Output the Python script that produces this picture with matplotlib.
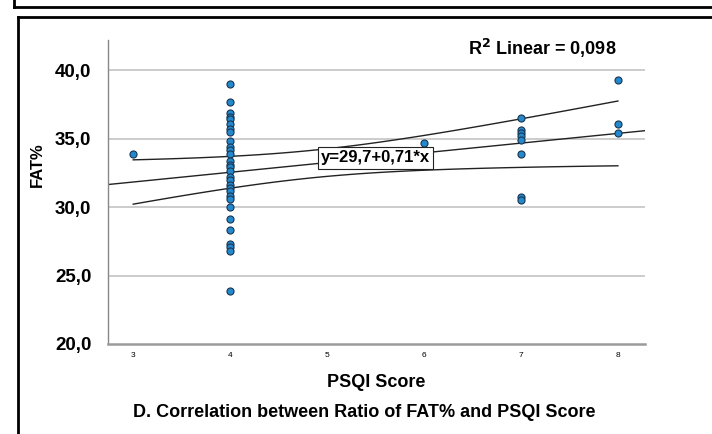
import numpy as np
import matplotlib
matplotlib.use("Agg")
import matplotlib.pyplot as plt
from matplotlib.lines import Line2D

plt.rcParams['font.family'] = ['Liberation Sans', 'DejaVu Sans']

# ---- data ----
psqi_3 = [33.9]
fat_4 = [39.0, 37.7, 36.9, 36.6, 36.4, 36.1, 35.7, 35.5, 34.8, 34.4, 34.2, 33.9,
         33.4, 33.1, 32.9, 32.6, 32.2, 32.0, 31.6, 31.4, 31.2, 30.8, 30.6, 30.0,
         29.1, 28.3, 27.3, 27.1, 26.8, 23.9]
fat_6 = [34.7]
fat_7 = [36.5, 35.6, 35.4, 35.2, 34.9, 33.9, 30.75, 30.5]
fat_8 = [39.3, 36.1, 35.4]

x_vals = np.array([3] * len(psqi_3) + [4] * len(fat_4) + [6] * len(fat_6)
                  + [7] * len(fat_7) + [8] * len(fat_8), dtype=float)
y_vals = np.array(psqi_3 + fat_4 + fat_6 + fat_7 + fat_8, dtype=float)

intercept = 29.7
slope = 0.71
r2_text = "0,098"
eq_text = "y=29,7+0,71*x"

x_ticks = [3, 4, 5, 6, 7, 8]
y_ticks = [20, 25, 30, 35, 40]
y_ticklabels = ["20,0", "25,0", "30,0", "35,0", "40,0"]

# ---- figure ----
fig = plt.figure(figsize=(7.12, 4.34), dpi=100)
ax = fig.add_axes([0.1517, 0.2074, 0.7543, 0.7004])

xlim = (2.74, 8.28)
ylim = (20, 42.2)
ax.set_xlim(*xlim)
ax.set_ylim(*ylim)

# grid
for yt in y_ticks[1:]:
    ax.axhline(yt, color='#c8c8c8', lw=1.3, zorder=0)

# regression line over full axis
xx = np.linspace(xlim[0], xlim[1], 100)
ax.plot(xx, intercept + slope * xx, color='#222222', lw=1.0, zorder=2)

# 95% CI of mean over data range
n = len(x_vals)
resid = y_vals - (intercept + slope * x_vals)
s = np.sqrt(np.sum(resid ** 2) / (n - 2))
xbar = x_vals.mean()
sxx = np.sum((x_vals - xbar) ** 2)
tval = 2.02
xc = np.linspace(x_vals.min(), x_vals.max(), 100)
se = s * np.sqrt(1.0 / n + (xc - xbar) ** 2 / sxx)
ax.plot(xc, intercept + slope * xc + tval * se, color='#222222', lw=1.0, zorder=2)
ax.plot(xc, intercept + slope * xc - tval * se, color='#222222', lw=1.0, zorder=2)

# points
ax.scatter(x_vals, y_vals, s=26, facecolor='#2488cc', edgecolor='#1a3550',
           linewidth=0.8, zorder=3)

# equation label
xe = 5.5
ax.text(xe, intercept + slope * xe, eq_text, ha='center', va='center',
        fontsize=12, fontweight='bold', zorder=4,
        bbox=dict(boxstyle='square,pad=0.2', facecolor='white',
                  edgecolor='#222222', linewidth=0.8))

# axes styling
for sp in ['top', 'right']:
    ax.spines[sp].set_visible(False)
ax.spines['left'].set_color('#888888')
ax.spines['left'].set_linewidth(1.0)
ax.spines['bottom'].set_color('#9a9a9a')
ax.spines['bottom'].set_linewidth(1.8)

ax.set_xticks(x_ticks)
ax.set_xticklabels([str(t) for t in x_ticks], fontsize=6)
ax.set_yticks(y_ticks)
ax.set_yticklabels(y_ticklabels, fontsize=13.5, fontweight='bold')
ax.tick_params(axis='both', length=0)
ax.tick_params(axis='x', pad=6)
ax.tick_params(axis='y', pad=12)

ax.set_xlabel("PSQI Score", fontsize=13, fontweight='bold')
ax.xaxis.set_label_coords(0.5, -0.1)
ax.set_ylabel("FAT%", fontsize=12, fontweight='bold')
ax.yaxis.set_label_coords(-0.117, 0.59)

fig.text(0.657, 0.889, r"R$^\mathbf{2}$ Linear = " + r2_text, fontsize=13,
         fontweight='bold', ha='left', va='center')

fig.text(0.512, 0.05, "D. Correlation between Ratio of FAT% and PSQI Score",
         fontsize=13, fontweight='bold', ha='center', va='center')

# outer frame lines
W, H = 712.0, 434.0
def fl(x0, y0, x1, y1, lw=2.0):
    fig.add_artist(Line2D([x0 / W, x1 / W], [1 - y0 / H, 1 - y1 / H],
                          color='black', lw=lw, transform=fig.transFigure))
fl(14, 0, 14, 7)
fl(14, 7, 712, 7)
fl(18, 17, 712, 17)
fl(18, 17, 18, 434)

fig.savefig("out.png", dpi=100)
